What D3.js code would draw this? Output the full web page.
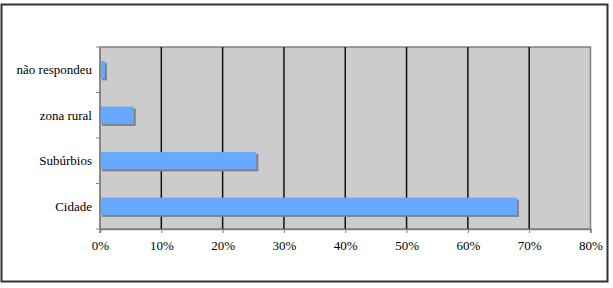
<!DOCTYPE html>
<html>
<head>
<meta charset="utf-8">
<script src="https://cdn.jsdelivr.net/npm/d3@7"></script>
<style>
  body { margin: 0; background: #fff; }
  svg { display: block; }
</style>
</head>
<body>
<div id="chart"></div>
<script>
var categories = ["Cidade", "Subúrbios", "zona rural", "não respondeu"];
var values = [68, 25.5, 5.5, 0.8];
var tickValues = [0, 10, 20, 30, 40, 50, 60, 70, 80];

var width = 613, height = 288;
var margin = { top: 47, right: 22.5, bottom: 59, left: 100 };
var w = width - margin.left - margin.right;
var h = height - margin.top - margin.bottom;
var serif = "'Liberation Serif', serif";

var svg = d3.select("#chart")
    .append("svg")
    .attr("width", width)
    .attr("height", height);

// outer frame
svg.append("rect")
    .attr("x", 1.5)
    .attr("y", 4.5)
    .attr("width", 606)
    .attr("height", 277)
    .attr("fill", "#fff")
    .attr("stroke", "#333")
    .attr("stroke-width", 2);

var g = svg.append("g")
    .attr("transform", "translate(" + margin.left + "," + margin.top + ")");

var x = d3.scaleLinear().domain([0, 80]).range([0, w]);
var y = d3.scaleBand().domain(categories.slice().reverse()).range([0, h]).paddingInner(0.62).paddingOuter(0.31);
var yb = d3.scaleBand().domain(categories.slice().reverse()).range([0, h]);

// plot background
g.append("rect")
    .attr("width", w)
    .attr("height", h)
    .attr("fill", "#cccccc")
    .attr("stroke", "#808080")
    .attr("stroke-width", 1.5);

// grid lines
g.selectAll(".grid")
    .data(tickValues.slice(1, -1))
    .enter()
    .append("line")
    .attr("x1", function (d) { return x(d); })
    .attr("x2", function (d) { return x(d); })
    .attr("y1", 0)
    .attr("y2", h)
    .attr("stroke", "#111")
    .attr("stroke-width", 1.5);

// bars: shadow then body
var bars = g.selectAll(".bar")
    .data(categories.map(function (c, i) { return { name: c, value: values[i] }; }))
    .enter()
    .append("g");

bars.append("rect")
    .attr("x", 2)
    .attr("y", function (d) { return y(d.name) + 2; })
    .attr("width", function (d) { return x(d.value); })
    .attr("height", y.bandwidth())
    .attr("fill", "#808080");

bars.append("rect")
    .attr("x", 0)
    .attr("y", function (d) { return y(d.name); })
    .attr("width", function (d) { return x(d.value); })
    .attr("height", y.bandwidth())
    .attr("fill", "#66a9ff");

// x axis
var xAxis = g.append("g")
    .attr("transform", "translate(0," + h + ")")
    .call(d3.axisBottom(x).tickValues(tickValues).tickSize(4).tickPadding(8)
        .tickFormat(function (d) { return d + "%"; }));
xAxis.select(".domain").attr("stroke", "#808080").attr("stroke-width", 1.5);
xAxis.selectAll(".tick line").attr("stroke", "#808080");
xAxis.selectAll("text")
    .attr("fill", "#000")
    .style("font-family", serif)
    .style("font-size", "13px");

// y axis: ticks at band boundaries
var yAxis = g.append("g");
yAxis.append("line")
    .attr("x1", 0).attr("x2", 0).attr("y1", 0).attr("y2", h + 4)
    .attr("stroke", "#808080").attr("stroke-width", 1.5);
yAxis.selectAll(".ytick")
    .data(categories)
    .enter()
    .append("line")
    .attr("x1", -4).attr("x2", 0)
    .attr("y1", function (d) { return yb(d) + yb.bandwidth(); })
    .attr("y2", function (d) { return yb(d) + yb.bandwidth(); })
    .attr("stroke", "#808080");
yAxis.append("line")
    .attr("x1", -4).attr("x2", 0).attr("y1", 0).attr("y2", 0)
    .attr("stroke", "#808080");

yAxis.selectAll(".ylabel")
    .data(categories)
    .enter()
    .append("text")
    .attr("x", -8)
    .attr("y", function (d) { return y(d) + y.bandwidth() / 2; })
    .attr("dy", "0.35em")
    .attr("text-anchor", "end")
    .style("font-family", serif)
    .style("font-size", "13px")
    .text(function (d) { return d; });
</script>
</body>
</html>
